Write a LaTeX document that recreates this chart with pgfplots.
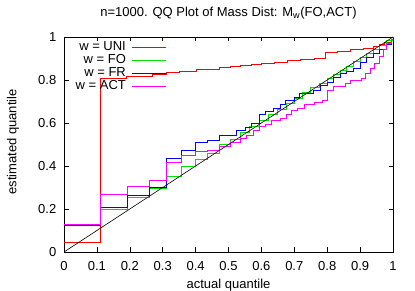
\documentclass[border=0pt]{standalone}
\usepackage{fontspec}
\setmainfont{Liberation Sans}
\usepackage{pgfplots}
\pgfplotsset{compat=1.18}
\newcommand\f{\fontsize{13}{15}\selectfont}
\definecolor{gpred}{RGB}{255,0,0}
\definecolor{gpgreen}{RGB}{0,225,0}
\definecolor{gpblue}{RGB}{0,0,255}
\definecolor{gpmag}{RGB}{255,0,255}
\begin{document}
\begin{tikzpicture}
\useasboundingbox (-64pt,-39pt) rectangle (351pt,252pt);
\begin{axis}[
  at={(0,0)}, anchor=south west,
  scale only axis, width=329pt, height=215pt,
  xmin=0, xmax=1, ymin=0, ymax=1,
  xtick={0,0.1,0.2,0.3,0.4,0.5,0.6,0.7,0.8,0.9,1},
  ytick={0,0.2,0.4,0.6,0.8,1},
  tick align=inside, major tick length=4.5pt,
  tick style={black, line width=0.6pt},
  axis line style={line width=0.7pt},
  /pgf/number format/assume math mode=true,
  /pgf/number format/fixed,
  xticklabel style={font=\f, anchor=base, inner sep=0pt, yshift=-19pt},
  yticklabel style={font=\f, anchor=east, inner sep=0pt, xshift=-7.5pt},
  title={n=1000. QQ Plot of Mass Dist: M\textsubscript{w}(FO,ACT)},
  title style={font=\f, anchor=base, at={(axis description cs:0.5,1)}, yshift=14.5pt},
  xlabel={actual quantile},
  xlabel style={font=\f, anchor=base, at={(axis description cs:0.5,-0.172)}},
  ylabel={estimated quantile},
  ylabel style={font=\f, rotate=0, anchor=center, at={(axis description cs:-0.155,0.512)}},
  legend plot pos=right,
  legend cell align=right,
  legend image code/.code={\draw[#1, line width=0.9pt] (0pt,0pt) -- (34pt,0pt);},
  legend style={draw=none, fill=none, font=\f, at={(axis description cs:0.313,0.984)}, anchor=north east,
    inner sep=0pt, column sep=6pt, row sep=0pt,
    nodes={inner sep=0pt, text height=9.5pt, text depth=3.5pt}},
  every axis plot/.append style={line width=0.9pt},
]
% w = UNI
\addplot[gpred, const plot] coordinates {
(0,0.045) (0.111,0.805) (0.19,0.815) (0.27,0.825) (0.312,0.836) (0.35,0.842)
(0.403,0.85) (0.474,0.858) (0.505,0.861) (0.535,0.866) (0.57,0.871) (0.60,0.876)
(0.64,0.882) (0.68,0.889) (0.72,0.896) (0.76,0.902) (0.795,0.927) (0.83,0.932)
(0.87,0.94) (0.91,0.947) (0.94,0.955) (0.96,0.965) (0.975,0.975) (0.995,0.99) (1,1)};
\addlegendentry{w = UNI}
% w = FO
\addplot[gpgreen, const plot] coordinates {
(0,0.125) (0.111,0.199) (0.193,0.255) (0.26,0.296) (0.312,0.35) (0.358,0.397)
(0.401,0.43) (0.436,0.46) (0.474,0.50) (0.505,0.525) (0.535,0.555) (0.565,0.585)
(0.594,0.61) (0.62,0.64) (0.65,0.665) (0.675,0.69) (0.70,0.715) (0.725,0.74)
(0.75,0.765) (0.775,0.785) (0.80,0.806) (0.82,0.825) (0.84,0.845) (0.86,0.865)
(0.88,0.884) (0.90,0.904) (0.92,0.923) (0.94,0.943) (0.96,0.962) (0.98,0.982) (1,1)};
\addlegendentry{w = FO}
% w = FR
\addplot[gpblue, const plot] coordinates {
(0,0.125) (0.111,0.208) (0.193,0.262) (0.26,0.302) (0.312,0.436) (0.358,0.472)
(0.401,0.51) (0.436,0.518) (0.474,0.542) (0.525,0.567) (0.55,0.58) (0.57,0.599)
(0.594,0.641) (0.611,0.653) (0.636,0.668) (0.657,0.684) (0.672,0.704) (0.70,0.72)
(0.717,0.738) (0.758,0.753) (0.78,0.775) (0.80,0.79) (0.82,0.81) (0.84,0.83)
(0.86,0.838) (0.88,0.855) (0.90,0.88) (0.92,0.905) (0.94,0.925) (0.96,0.94)
(0.98,0.965) (0.995,0.99) (1,1)};
\addlegendentry{w = FR}
% w = ACT
\addplot[gpmag, const plot] coordinates {
(0,0.13) (0.111,0.267) (0.193,0.307) (0.26,0.335) (0.312,0.415) (0.358,0.45)
(0.40,0.466) (0.436,0.474) (0.474,0.49) (0.505,0.51) (0.535,0.527) (0.555,0.544)
(0.575,0.565) (0.594,0.583) (0.611,0.594) (0.631,0.611) (0.657,0.622) (0.675,0.64)
(0.69,0.66) (0.71,0.668) (0.73,0.684) (0.76,0.695) (0.785,0.707) (0.80,0.753)
(0.82,0.77) (0.854,0.785) (0.87,0.80) (0.905,0.807) (0.915,0.83) (0.93,0.854)
(0.945,0.877) (0.96,0.908) (0.97,0.94) (0.98,0.97) (0.995,0.99) (1,1)};
\addlegendentry{w = ACT}
% diagonal
\addplot[black, line width=0.6pt, forget plot] coordinates {(0,0) (1,1)};
\end{axis}
\end{tikzpicture}
\end{document}
